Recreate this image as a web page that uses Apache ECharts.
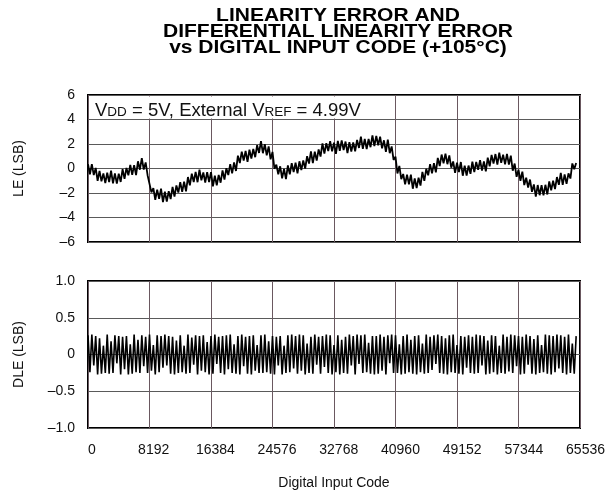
<!DOCTYPE html>
<html>
<head>
<meta charset="utf-8">
<script src="https://cdn.jsdelivr.net/npm/echarts@6/dist/echarts.min.js"></script>
<style>html,body{margin:0;padding:0;background:#fff;}#c{width:608px;height:494px;}</style>
</head>
<body>
<div id="c"></div>
<script>
// ---- data ----
const titleLines = ['LINEARITY ERROR AND', 'DIFFERENTIAL LINEARITY ERROR', 'vs DIGITAL INPUT CODE (+105\u00B0C)'];
const xTickLabels = ['0','8192','16384','24576','32768','40960','49152','57344','65536'];
const xTickStep = 8192;
const codeStep = 256; // spacing of sampled codes (code = index * codeStep)
const leTicks = ['6','4','2','0','\u20132','\u20134','\u20136'];
const dleTicks = ['1.0','0.5','0','\u20130.5','\u20131.0'];

const leValues = [
 0.35,-0.47,0.36,-0.54,0.05,-1.0,-0.2,-1.05,-0.4,-1.2,
 -0.35,-1.1,-0.18,-1.22,-0.4,-1.23,-0.42,-1.1,-0.05,-0.85,
 0.05,-0.55,0.3,-0.52,0.27,-0.54,0.59,-0.1,0.85,-0.08,
 0.5,-0.55,-0.65,-1.95,-1.6,-2.55,-1.72,-2.48,-1.64,-2.75,
 -1.9,-2.7,-1.85,-2.5,-1.5,-2.29,-1.38,-1.97,-1.11,-1.9,
 -1.08,-1.87,-0.7,-1.38,-0.42,-1.1,-0.28,-1.12,-0.1,-0.96,
 -0.32,-1.14,-0.3,-1.1,-0.3,-1.45,-0.59,-1.38,-0.52,-1.16,
 -0.15,-0.91,0.03,-0.53,0.36,-0.4,0.5,-0.2,1.05,0.45,
 1.38,0.65,1.43,0.55,1.53,0.81,1.59,0.92,1.9,1.27,
 2.23,1.25,1.98,1.07,1.8,0.75,1.35,-0.02,0.31,-0.48,
 0.18,-0.8,-0.03,-0.87,0.25,-0.48,0.43,-0.3,0.48,-0.39,
 0.59,-0.13,0.65,0.0,1.0,0.4,1.4,0.45,1.37,0.64,
 1.56,0.98,2.05,1.21,2.07,1.43,2.24,1.4,2.1,1.2,
 2.25,1.45,2.3,1.5,2.2,1.25,2.15,1.39,2.12,1.41,
 2.34,1.68,2.61,1.6,2.42,1.59,2.41,1.74,2.71,1.83,
 2.65,1.9,2.6,1.65,2.3,1.35,2.35,1.25,1.8,0.7,
 0.97,-0.41,0.21,-0.87,-0.45,-1.3,-0.5,-1.3,-0.5,-1.65,
 -0.8,-1.6,-0.75,-1.4,-0.28,-1.01,-0.03,-0.56,0.36,-0.4,
 0.44,-0.32,0.86,0.2,1.14,0.43,1.21,0.35,1.06,0.07,
 0.58,-0.36,0.47,-0.3,0.53,-0.59,0.24,-0.58,0.24,-0.43,
 0.55,-0.3,0.54,-0.11,0.68,-0.17,0.57,-0.24,0.89,0.18,
 1.11,0.4,1.18,0.32,1.3,0.46,1.13,0.34,1.2,0.32,
 1.05,-0.18,0.4,-0.68,-0.1,-1.0,-0.25,-1.35,-0.75,-1.55,
 -0.9,-1.9,-1.3,-2.3,-1.35,-2.18,-1.37,-2.2,-1.33,-2.12,
 -1.05,-1.78,-1.0,-1.68,-0.7,-1.33,-0.35,-1.34,-0.48,-1.26,
 -0.4,-0.82,0.41,-0.05,0.45
];

const dleValues = [
 0.26,-0.24,0.27,-0.15,0.25,-0.27,0.22,-0.26,0.12,-0.25,
 0.27,-0.26,0.18,-0.25,0.26,-0.12,0.25,-0.27,0.24,-0.2,
 0.25,-0.27,0.14,-0.26,0.27,-0.24,0.2,-0.25,0.26,-0.16,
 0.24,-0.25,0.27,-0.22,0.13,-0.27,0.26,-0.24,0.25,-0.18,
 0.27,-0.15,0.25,-0.26,0.24,-0.27,0.19,-0.25,0.26,-0.24,
 0.12,-0.26,0.27,-0.25,0.23,-0.14,0.26,-0.27,0.25,-0.22,
 0.26,-0.24,0.17,-0.27,0.25,-0.26,0.27,-0.13,0.24,-0.25,
 0.25,-0.27,0.26,-0.2,0.27,-0.25,0.14,-0.26,0.25,-0.27,
 0.27,-0.16,0.24,-0.26,0.25,-0.27,0.26,-0.22,0.13,-0.25,
 0.26,-0.25,0.27,-0.24,0.18,-0.26,0.25,-0.27,0.24,-0.15,
 0.25,-0.27,0.12,-0.25,0.26,-0.24,0.27,-0.19,0.25,-0.26,
 0.27,-0.22,0.26,-0.27,0.15,-0.25,0.24,-0.26,0.27,-0.14,
 0.24,-0.26,0.25,-0.17,0.27,-0.25,0.26,-0.27,0.13,-0.24,
 0.26,-0.27,0.2,-0.25,0.24,-0.26,0.27,-0.15,0.25,-0.27,
 0.27,-0.13,0.26,-0.25,0.27,-0.24,0.16,-0.26,0.25,-0.27,
 0.25,-0.26,0.27,-0.22,0.24,-0.27,0.26,-0.12,0.27,-0.25,
 0.26,-0.25,0.14,-0.27,0.25,-0.26,0.27,-0.24,0.2,-0.26,
 0.25,-0.27,0.26,-0.24,0.15,-0.26,0.27,-0.25,0.24,-0.21,
 0.26,-0.13,0.27,-0.25,0.25,-0.26,0.22,-0.27,0.26,-0.24,
 0.27,-0.25,0.13,-0.26,0.25,-0.27,0.24,-0.18,0.26,-0.25,
 0.24,-0.26,0.27,-0.25,0.26,-0.15,0.25,-0.27,0.19,-0.26,
 0.26,-0.24,0.25,-0.27,0.12,-0.25,0.27,-0.26,0.24,-0.23,
 0.27,-0.25,0.26,-0.16,0.25,-0.27,0.24,-0.26,0.27,-0.14,
 0.25,-0.26,0.21,-0.27,0.26,-0.25,0.13,-0.24,0.27,-0.26,
 0.26,-0.27,0.25,-0.24,0.27,-0.19,0.26,-0.25,0.24,-0.27,
 0.27,-0.25,0.15,-0.26,0.25
];

// ---- chart ----
const FONT = '"Liberation Sans", Arial, Helvetica, sans-serif';
const vGrid = '#6a5860', hGrid = '#5a5a5a';
const xMax = xTickStep * (xTickLabels.length - 1);

function leFmt(v){ const i = Math.round((6 - v) / 2); return leTicks[i] || ''; }
function dleFmt(v){ const i = Math.round((1 - v) / 0.5); return dleTicks[i] || ''; }

const leData = leValues.map((v,i)=>[i*codeStep, v]);
const dleData = dleValues.map((v,i)=>[i*codeStep, v]);

const chart = echarts.init(document.getElementById('c'), null, {renderer:'canvas'});
const baseX = {
  type:'value', min:0, max:xMax, interval:xTickStep,
  axisLine:{show:false}, axisTick:{show:false},
  splitLine:{show:true, lineStyle:{color:vGrid, width:1}}
};
chart.setOption({
  animation:false,
  backgroundColor:'#fff',
  grid:[
    {left:88, top:95, width:492, height:147, show:true, borderColor:'#000', borderWidth:2, backgroundColor:'transparent'},
    {left:88, top:281, width:492, height:147, show:true, borderColor:'#000', borderWidth:2, backgroundColor:'transparent'},
    {left:92, top:281, width:499, height:147, show:false}
  ],
  xAxis:[
    Object.assign({gridIndex:0, axisLabel:{show:false}}, baseX),
    Object.assign({gridIndex:1, axisLabel:{show:false},
      name:'Digital Input Code', nameLocation:'middle', nameGap:48,
      nameTextStyle:{fontFamily:FONT, fontSize:14, color:'#111'}}, baseX),
    {gridIndex:2, type:'value', min:0, max:xMax, interval:xTickStep,
      axisLine:{show:false}, axisTick:{show:false}, splitLine:{show:false},
      axisLabel:{show:true, margin:15, fontFamily:FONT, fontSize:14, color:'#111',
        formatter:(v)=>xTickLabels[Math.round(v/xTickStep)]}}
  ],
  yAxis:[
    {gridIndex:0, type:'value', min:-6, max:6, interval:2,
      axisLine:{show:false}, axisTick:{show:false},
      splitLine:{show:true, lineStyle:{color:hGrid, width:1}},
      axisLabel:{margin:13, fontFamily:FONT, fontSize:14, color:'#111', formatter:leFmt},
      name:'LE (LSB)', nameLocation:'middle', nameGap:62, nameRotate:90,
      nameTextStyle:{fontFamily:FONT, fontSize:14, color:'#111'}},
    {gridIndex:1, type:'value', min:-1, max:1, interval:0.5,
      axisLine:{show:false}, axisTick:{show:false},
      splitLine:{show:true, lineStyle:{color:hGrid, width:1}},
      axisLabel:{margin:13, fontFamily:FONT, fontSize:14, color:'#111', formatter:dleFmt},
      name:'DLE (LSB)', nameLocation:'middle', nameGap:62, nameRotate:90,
      nameTextStyle:{fontFamily:FONT, fontSize:14, color:'#111'}},
    {gridIndex:2, type:'value', min:-1, max:1, show:false}
  ],
  graphic:[
    {type:'text', z:11, x:338, y:8, scaleX:1.2, scaleY:1,
      style:{text:titleLines.join('\n'), textAlign:'center', textVerticalAlign:'top',
        fontFamily:FONT, fontSize:17.5, fontWeight:'bold', lineHeight:16, fill:'#000'}},
    {type:'rect', z:10, shape:{x:89, y:96.5, width:292, height:22}, style:{fill:'#fff'}},
    {type:'text', z:11, left:95, top:94,
      style:{
        text:'{n|V}{s|DD}{n| = 5V, External V}{s|REF}{n| = 4.99V}',
        rich:{
          n:{fontFamily:FONT, fontSize:18.5, lineHeight:18, verticalAlign:'top', fill:'#111'},
          s:{fontFamily:FONT, fontSize:13.5, lineHeight:13, padding:[11,0,0,0], verticalAlign:'bottom', fill:'#111'}
        }
      }}
  ],
  series:[
    {type:'line', xAxisIndex:0, yAxisIndex:0, data:leData, showSymbol:false, symbol:'none',
      lineStyle:{color:'#000', width:1.8}, z:3},
    {type:'line', xAxisIndex:1, yAxisIndex:1, data:dleData, showSymbol:false, symbol:'none',
      lineStyle:{color:'#000', width:1.6}, z:3}
  ]
});
</script>
</body>
</html>
